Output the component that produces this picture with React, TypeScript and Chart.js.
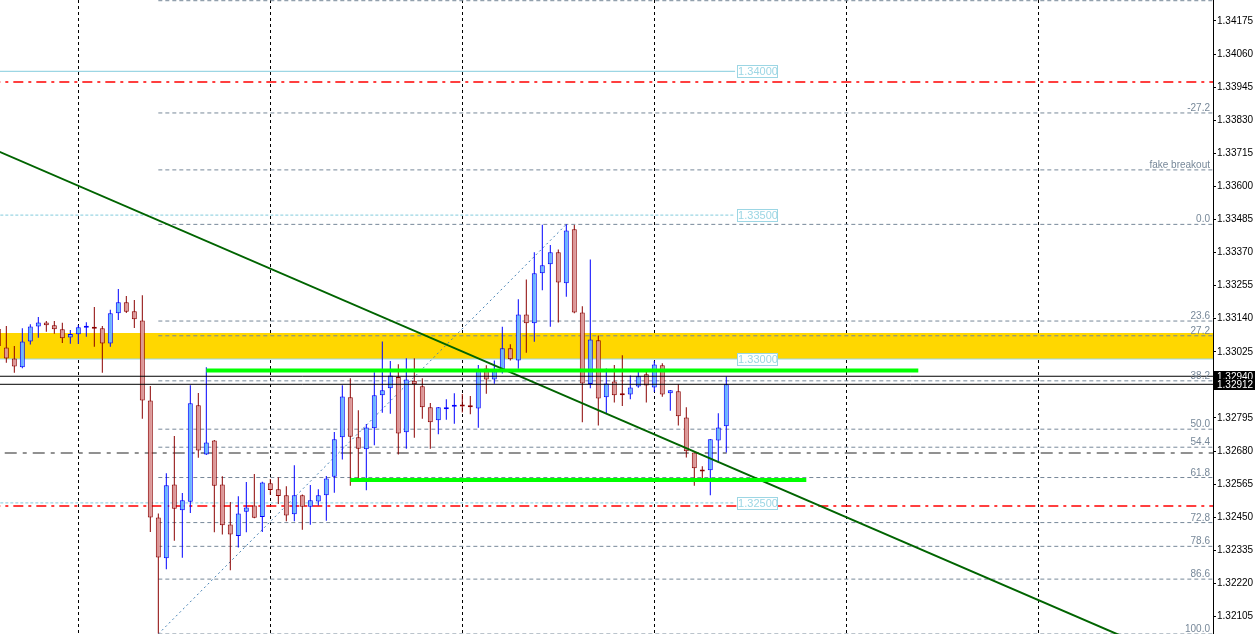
import React, { useEffect, useRef } from "react";
import { Chart, registerables } from "chart.js";
Chart.register(...registerables);

// ---- candle data (bar index starts at FIRST_INDEX) ----
const FIRST_INDEX = -1;
const opens = [1.33104,1.33040,1.33002,1.32971,1.33061,1.33113,1.33127,1.33117,1.33103,1.33075,1.33086,1.33109,1.33110,1.33107,1.33054,1.33159,1.33197,1.33166,1.33134,1.32856,1.32449,1.32307,1.32564,1.32474,1.32504,1.32839,1.32668,1.32717,1.32564,1.32425,1.32385,1.32469,1.32491,1.32451,1.32568,1.32547,1.32526,1.32460,1.32526,1.32486,1.32505,1.32526,1.32591,1.32728,1.32867,1.32728,1.32686,1.32759,1.32874,1.32898,1.32937,1.32745,1.32924,1.32905,1.32832,1.32787,1.32825,1.32834,1.32842,1.32835,1.32828,1.32967,1.32929,1.32957,1.33037,1.32995,1.33155,1.33124,1.33298,1.33329,1.33371,1.33263,1.33451,1.33162,1.32913,1.33065,1.32867,1.32922,1.32878,1.32877,1.32904,1.32947,1.32901,1.32978,1.32881,1.32888,1.32797,1.32675,1.32616,1.32613,1.32717,1.32766];
const highs = [1.33115,1.33115,1.33045,1.33107,1.33121,1.33146,1.33132,1.33132,1.33126,1.33101,1.33118,1.33128,1.33181,1.33115,1.33171,1.33243,1.33219,1.33205,1.33222,1.32906,1.32463,1.32603,1.32732,1.32534,1.32909,1.32882,1.32971,1.32718,1.32592,1.32503,1.32523,1.32572,1.32600,1.32573,1.32583,1.32589,1.32558,1.32631,1.32529,1.32562,1.32547,1.32593,1.32746,1.32909,1.32933,1.32822,1.32774,1.32954,1.33061,1.32993,1.32982,1.33003,1.33003,1.32933,1.32847,1.32833,1.32860,1.32881,1.32878,1.32871,1.32979,1.32978,1.32995,1.33112,1.33051,1.33208,1.33276,1.33371,1.33467,1.33396,1.33381,1.33468,1.33466,1.33183,1.33346,1.33082,1.32967,1.32979,1.33013,1.32943,1.32957,1.32964,1.32993,1.32985,1.32892,1.32912,1.32832,1.32676,1.32627,1.32722,1.32811,1.32939];
const lows = [1.33031,1.32987,1.32952,1.32968,1.33050,1.33074,1.33095,1.33088,1.33056,1.33053,1.33052,1.33077,1.33043,1.32952,1.33043,1.33136,1.33160,1.33108,1.32792,1.32399,1.32046,1.32269,1.32368,1.32309,1.32465,1.32657,1.32666,1.32398,1.32390,1.32266,1.32345,1.32398,1.32446,1.32399,1.32528,1.32496,1.32436,1.32436,1.32406,1.32424,1.32491,1.32438,1.32535,1.32651,1.32559,1.32579,1.32544,1.32700,1.32813,1.32810,1.32668,1.32688,1.32726,1.32792,1.32688,1.32738,1.32789,1.32775,1.32814,1.32808,1.32761,1.32879,1.32914,1.32950,1.32995,1.32966,1.33022,1.33060,1.33239,1.33112,1.33127,1.33216,1.33159,1.32780,1.32898,1.32769,1.32811,1.32849,1.32837,1.32860,1.32900,1.32849,1.32885,1.32869,1.32820,1.32769,1.32658,1.32559,1.32585,1.32526,1.32641,1.32675];
const closes = [1.33045,1.33002,1.32974,1.33061,1.33113,1.33127,1.33117,1.33103,1.33072,1.33087,1.33110,1.33110,1.33105,1.33054,1.33159,1.33197,1.33164,1.33138,1.32856,1.32449,1.32310,1.32561,1.32479,1.32509,1.32846,1.32682,1.32710,1.32559,1.32422,1.32390,1.32463,1.32484,1.32448,1.32571,1.32545,1.32524,1.32456,1.32526,1.32486,1.32509,1.32526,1.32585,1.32721,1.32870,1.32730,1.32688,1.32762,1.32874,1.32891,1.32943,1.32741,1.32929,1.32912,1.32832,1.32780,1.32832,1.32830,1.32839,1.32835,1.32832,1.32964,1.32929,1.32957,1.33037,1.32999,1.33155,1.33124,1.33298,1.33326,1.33371,1.33266,1.33447,1.33162,1.32915,1.33068,1.32863,1.32915,1.32874,1.32874,1.32901,1.32940,1.32908,1.32981,1.32877,1.32891,1.32801,1.32679,1.32620,1.32609,1.32721,1.32762,1.32912];

// ---- axes ----
const yTicks = [1.34175,1.3406,1.33945,1.3383,1.33715,1.336,1.33485,1.3337,1.33255,1.3314,1.33025,1.32795,1.3268,1.32565,1.3245,1.32335,1.3222,1.32105];
const gridBars = [9, 33, 57, 81, 105, 129];
const X_MIN = -0.79, X_MAX = 150.84;
const Y_MIN = 1.32044, Y_MAX = 1.34248;

// ---- fibonacci ----
const fibHigh = 1.33468, fibLow = 1.32044;
const fibStartBar = 19, fibHighBar = 70;
const fibRatios = [-0.546, -0.272, -0.133, 0, 0.236, 0.272, 0.382, 0.5, 0.544, 0.618, 0.728, 0.786, 0.866, 1];
const fibLabels = ["", "-27.2", "fake breakout", "0.0", "23.6", "27.2", "38.2", "50.0", "54.4", "61.8", "72.8", "78.6", "86.6", "100.0"];

// ---- other objects ----
const roundLevels = [1.34, 1.335, 1.33, 1.325];
const roundLabels = ["1.34000", "1.33500", "1.33000", "1.32500"];
const roundDashed = [false, true, false, true];
const roundFull = [false, false, true, false];
const roundLineEndBar = 91.1;
const redLevels = [1.33963, 1.32489];
const greyLevel = 1.32673;
const askPrice = 1.3294, bidPrice = 1.32912;
const zoneTop = 1.3309, zoneBottom = 1.33;
const greenLevels = [1.3296, 1.32579];
const greenStarts = [25, 43];
const greenEnds = [114, 100];
const trendBars = [-2, 140];
const trendPrices = [1.33734, 1.3203];

const BULL_FILL = "#6AB4FF", BULL_LINE = "#0000FF";
const BEAR_FILL = "#DC9696", BEAR_LINE = "#8B0000";
const FIB_COLOR = "#778899";
const LB = "#9CD6E4";

export default function App() {
  const ref = useRef<HTMLCanvasElement>(null);
  useEffect(() => {
    document.body.style.margin = "0";
    const idx = opens.map((_, i) => FIRST_INDEX + i);
    const bull = opens.map((o, i) => closes[i] >= o);
    const wickData = idx.map((k, i) => ({ x: k, y: [lows[i], highs[i]] }));
    const bodyData = idx.map((k, i) => ({ x: k, y: [Math.min(opens[i], closes[i]), Math.max(opens[i], closes[i])] }));
    const hline = (p: number, a: number, b: number) => [{ x: a, y: p }, { x: b, y: p }];
    const lineDs = (data: any, color: string, width: number, dash: number[], order: number, extra: any = {}) => ({
      type: "line", data, borderColor: color, borderWidth: width, borderDash: dash,
      pointRadius: 0, pointHoverRadius: 0, fill: false, order, clip: 0, tension: 0, ...extra,
    });
    const fibPrice = (r: number) => fibHigh - r * (fibHigh - fibLow);

    const datasets: any[] = [];
    // yellow zone
    datasets.push(lineDs(hline(zoneTop, -2, 160), "rgba(0,0,0,0)", 0, [], 100, { fill: { value: zoneBottom }, backgroundColor: "#FFD700" }));
    // round levels
    roundLevels.forEach((p, i) => {
      datasets.push(lineDs(hline(p, -2, roundFull[i] ? 160 : roundLineEndBar), LB, 1.2, roundDashed[i] ? [3, 2] : [], 90));
    });
    // red & grey dash-dot
    redLevels.forEach((p) => datasets.push(lineDs(hline(p, -2, 160), "#FF0000", 1.3, [10, 5, 3, 5], 85)));
    datasets.push(lineDs(hline(greyLevel, -0.2, 160), "#6E6E6E", 1.5, [12, 6, 4, 6], 85));
    // fib levels
    fibRatios.forEach((r) => datasets.push(lineDs(hline(fibPrice(r), fibStartBar, 160), FIB_COLOR, 1, [4, 3], 80)));
    datasets.push(lineDs([{ x: fibStartBar, y: fibLow }, { x: fibHighBar, y: fibHigh }], "#4682B4", 1, [2, 3], 80));
    // candles
    datasets.push({
      type: "bar", data: wickData, grouped: false, barThickness: 1, borderWidth: 0,
      backgroundColor: bull.map((b) => (b ? BULL_LINE : BEAR_LINE)), order: 20, inflateAmount: 0,
    });
    datasets.push({
      type: "bar", data: bodyData, grouped: false, barThickness: 5, borderWidth: 1, borderSkipped: false,
      minBarLength: 2, inflateAmount: 0,
      backgroundColor: bull.map((b) => (b ? BULL_FILL : BEAR_FILL)),
      borderColor: bull.map((b) => (b ? BULL_LINE : BEAR_LINE)), order: 10,
    });
    // green objects
    greenLevels.forEach((p, i) => datasets.push(lineDs(hline(p, greenStarts[i], greenEnds[i]), "#00FF00", 4, [], 5)));
    datasets.push(lineDs(trendBars.map((k, i) => ({ x: k, y: trendPrices[i] })), "#006400", 2, [], 5));
    // bid / ask
    datasets.push(lineDs(hline(askPrice, -2, 160), "#000000", 1, [], 4));
    datasets.push(lineDs(hline(bidPrice, -2, 160), "#000000", 1, [], 4));

    const labelPlugin = {
      id: "labels",
      afterDatasetsDraw(chart: any) {
        const { ctx, chartArea, scales } = chart;
        const x = scales.x, y = scales.y;
        ctx.save();
        ctx.font = '10px "Liberation Sans"';
        ctx.fillStyle = FIB_COLOR;
        ctx.textAlign = "right";
        ctx.textBaseline = "alphabetic";
        fibRatios.forEach((r, i) => {
          if (!fibLabels[i]) return;
          const py = y.getPixelForValue(fibPrice(r));
          ctx.fillText(fibLabels[i], chartArea.right - 3, py - 2);
        });
        ctx.font = '11px "Liberation Sans"';
        ctx.textAlign = "center";
        ctx.textBaseline = "middle";
        roundLevels.forEach((p, i) => {
          const py = Math.round(y.getPixelForValue(p));
          const left = Math.round(x.getPixelForValue(roundLineEndBar)) + 2;
          ctx.fillStyle = "#FFFFFF";
          ctx.fillRect(left, py - 6, 41, 13);
          ctx.strokeStyle = LB;
          ctx.lineWidth = 1;
          ctx.strokeRect(left + 0.5, py - 5.5, 40, 12);
          ctx.fillStyle = LB;
          ctx.fillText(roundLabels[i], left + 21, py + 1);
        });
        ctx.restore();
      },
      afterDraw(chart: any) {
        const { ctx, chartArea, scales } = chart;
        const y = scales.y;
        ctx.save();
        ctx.font = '10px "Liberation Sans"';
        ctx.textAlign = "left";
        ctx.textBaseline = "middle";
        [askPrice, bidPrice].forEach((p) => {
          const py = Math.round(y.getPixelForValue(p));
          ctx.fillStyle = "#000000";
          ctx.fillRect(chartArea.right + 1, py - 5, 42, 11);
          ctx.fillStyle = "#FFFFFF";
          ctx.fillText(p.toFixed(5), chartArea.right + 4, py + 1);
        });
        ctx.restore();
      },
    };

    const chart = new Chart(ref.current as HTMLCanvasElement, {
      type: "bar",
      data: { datasets },
      options: {
        animation: false,
        responsive: false,
        devicePixelRatio: 1,
        events: [],
        layout: { padding: 0 },
        plugins: { legend: { display: false }, tooltip: { enabled: false } },
        scales: {
          x: {
            type: "linear", min: X_MIN, max: X_MAX, offset: false,
            afterBuildTicks: (s: any) => { s.ticks = gridBars.map((v) => ({ value: v })); },
            afterFit: (s: any) => { s.height = 0; s.paddingLeft = 0; s.paddingRight = 0; },
            ticks: { display: false },
            grid: { display: true, offset: false, drawOnChartArea: true, drawTicks: false, color: "#000000", lineWidth: 1 },
            border: { display: false, dash: [3, 3] },
          },
          y: {
            type: "linear", position: "right", min: Y_MIN, max: Y_MAX,
            afterBuildTicks: (s: any) => { s.ticks = yTicks.map((v) => ({ value: v })); },
            afterFit: (s: any) => { s.width = 42; s.paddingTop = 0; s.paddingBottom = 0; },
            ticks: {
              autoSkip: false, color: "#000000", padding: 1,
              font: { family: "Liberation Sans", size: 10 },
              callback: (v: any) => Number(v).toFixed(5),
            },
            grid: { drawOnChartArea: false, drawTicks: true, tickLength: 3, color: "#000000", offset: false },
            border: { display: true, color: "#000000", width: 1 },
          },
        },
      } as any,
      plugins: [labelPlugin],
    } as any);
    return () => chart.destroy();
  }, []);
  return (
    <div style={{ width: 1255, height: 634, background: "#FFFFFF" }}>
      <canvas ref={ref} width={1255} height={634} style={{ display: "block" }} />
    </div>
  );
}
